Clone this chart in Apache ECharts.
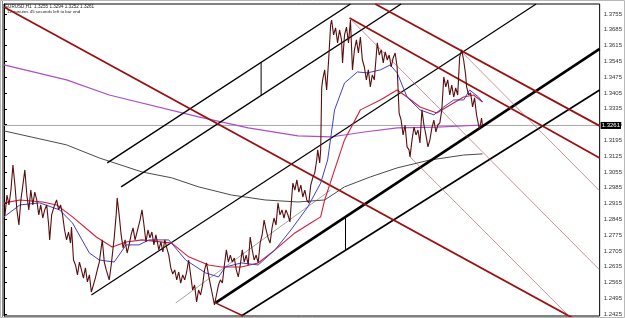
<!DOCTYPE html>
<html><head><meta charset="utf-8">
<script src="https://cdn.jsdelivr.net/npm/echarts@6/dist/echarts.min.js"></script>
<style>html,body{margin:0;padding:0;background:#fff}#c{width:625px;height:318px}</style>
</head><body><div id="c"></div><script>
// ---- price (close) path, bar index -> price ----
const priceBars = [1,3,5,7,9,11,13,15,17,19,21,23,25,27,29,31,33,35,37,39,41,43,45,46,48,51,53,55,57,59,61,63,65,67,68,70,72,74,76,78,80,82,84,86,88,90,92,94,96,99,101,103,106,108,111,113,114,116,118,120,122,124,126,128,130,132,134,137,139,141,143,145,147,149,151,153,156,158,160,162,164,166,168,170,172,174,176,178,180,182,184,186,188,190,192,194,196,198,200,202,204,206,208,210,212,214,216,218,220,222,224,226,228,230,232,234,236,238,240,242,244,246,248,250,252,254,256,258,260,262,264,266,268,270,272,274,276,278,280,282,284,286,288,290,291,293,295,297,299,301,303,305,307,309,311,313,315,316,318,319,320,321,323,325,327,329,330,332,334,336,338,340,341,343,345,347,349,351,353,355,357,359,361,363,365,367,369,371,373,376,378,380,382,384,386,388,390,392,394,396,398,400,402,404,406,408,409,411,413,415,417,419,421,423,425,427,429,431,433,435,437,439,441,443,445,447,449,451,453,455,457,459,461,463,465,466,468,470,472,474,476,478,479,481,482];
const priceClose = [1.2865,1.2953,1.2909,1.2975,1.3086,1.2997,1.2887,1.2820,1.2931,1.2997,1.3064,1.2953,1.2887,1.2975,1.2909,1.2966,1.2931,1.2865,1.2909,1.2851,1.2887,1.2909,1.2820,1.2754,1.2865,1.2909,1.2931,1.2887,1.2909,1.2865,1.2798,1.2754,1.2789,1.2740,1.2811,1.2665,1.2643,1.2599,1.2656,1.2621,1.2585,1.2630,1.2568,1.2599,1.2523,1.2554,1.2585,1.2621,1.2656,1.2754,1.2656,1.2621,1.2577,1.2643,1.2763,1.2865,1.2940,1.2865,1.2776,1.2718,1.2754,1.2696,1.2732,1.2776,1.2807,1.2754,1.2789,1.2842,1.2887,1.2820,1.2745,1.2798,1.2763,1.2789,1.2732,1.2776,1.2710,1.2745,1.2701,1.2754,1.2718,1.2687,1.2630,1.2603,1.2621,1.2577,1.2612,1.2563,1.2599,1.2577,1.2612,1.2665,1.2599,1.2532,1.2554,1.2479,1.2532,1.2510,1.2554,1.2621,1.2652,1.2599,1.2554,1.2510,1.2466,1.2510,1.2554,1.2577,1.2563,1.2643,1.2710,1.2656,1.2687,1.2656,1.2674,1.2621,1.2590,1.2643,1.2710,1.2656,1.2687,1.2643,1.2767,1.2710,1.2665,1.2687,1.2652,1.2740,1.2776,1.2842,1.2798,1.2763,1.2740,1.2807,1.2851,1.2820,1.2918,1.2865,1.2887,1.2851,1.2887,1.2865,1.2834,1.2953,1.3006,1.2975,1.3020,1.2966,1.2997,1.2944,1.2975,1.2931,1.2918,1.2997,1.3029,1.3051,1.3108,1.3153,1.3095,1.3153,1.3427,1.3463,1.3507,1.3418,1.3551,1.3706,1.3728,1.3662,1.3693,1.3627,1.3684,1.3640,1.3538,1.3662,1.3697,1.3627,1.3728,1.3507,1.3596,1.3640,1.3582,1.3653,1.3551,1.3520,1.3463,1.3507,1.3432,1.3485,1.3463,1.3627,1.3573,1.3596,1.3538,1.3587,1.3551,1.3573,1.3520,1.3560,1.3582,1.3520,1.3316,1.3285,1.3219,1.3263,1.3166,1.3153,1.3122,1.3197,1.3254,1.3219,1.3241,1.3184,1.3330,1.3263,1.3219,1.3166,1.3197,1.3250,1.3285,1.3232,1.3263,1.3272,1.3330,1.3476,1.3432,1.3463,1.3396,1.3440,1.3387,1.3427,1.3396,1.3565,1.3596,1.3551,1.3485,1.3432,1.3396,1.3405,1.3343,1.3383,1.3308,1.3263,1.3241,1.3294,1.3261];

// ---- moving averages ----
const maFastBars = [0,16,36,56,69,86,96,111,123,136,146,166,183,203,216,223,239,256,273,289,306,319,326,333,343,356,366,379,389,396,406,419,433,443,453,463,469,478,482];
const maFast = [1.2856,1.2909,1.2918,1.2887,1.2829,1.2696,1.2665,1.2656,1.2732,1.2732,1.2754,1.2754,1.2665,1.2608,1.2590,1.2634,1.2652,1.2643,1.2710,1.2798,1.2900,1.3006,1.3108,1.3330,1.3449,1.3498,1.3494,1.3507,1.3529,1.3494,1.3387,1.3330,1.3308,1.3343,1.3374,1.3374,1.3418,1.3387,1.3365];
const maMidBars = [0,16,39,53,69,93,109,123,139,169,186,206,219,239,256,273,293,309,319,323,333,343,359,379,396,406,419,436,446,463,473,482];
const maMid = [1.2918,1.2931,1.2922,1.2909,1.2856,1.2767,1.2723,1.2745,1.2754,1.2740,1.2679,1.2643,1.2634,1.2634,1.2652,1.2710,1.2785,1.2829,1.2856,1.2931,1.3064,1.3197,1.3330,1.3374,1.3418,1.3387,1.3343,1.3316,1.3343,1.3387,1.3396,1.3365];
const maSlowBars = [0,63,106,196,246,296,329,363,396,436,482];
const maSlow = [1.3529,1.3463,1.3396,1.3299,1.3250,1.3215,1.3210,1.3232,1.3250,1.3254,1.3263];
const maLongBars = [0,63,96,139,169,196,229,263,296,323,343,369,396,429,463,482];
const maLong = [1.3237,1.3175,1.3117,1.3055,1.3029,1.2989,1.2953,1.2931,1.2922,1.2931,1.2989,1.3033,1.3073,1.3108,1.3130,1.3135];

// ---- drawn trend lines: [bar, price] end points ----
const upperChannelA = [[104,1.3095],[349,1.3799]];
const upperChannelB = [[118,1.2989],[400,1.3799]];
const upperMarker = [[259,1.3542],[259,1.3396]];
const medianLine = [[88,1.2510],[536,1.3799]];
const lowerChannelA = [[213,1.2475],[600,1.3600]];
const lowerChannelB = [[239,1.2417],[600,1.3418]];
const lowerMarker = [[344,1.2851],[344,1.2710]];
const handleLine = [[213,1.2475],[241,1.2417]];
const thinGuide = [[173,1.2475],[329,1.2975]];
const redDownA = [[0,1.3786],[600,1.2343]];
const redDownB = [[374,1.3799],[600,1.3259]];
const redDownC = [[348,1.3737],[600,1.3117]];
const forkMedian = [[348,1.3737],[600,1.2621]];
const forkUpper = [[461,1.3587],[600,1.2971]];
const forkLower = [[409,1.3122],[569,1.2417]];

const tickValues = [1.2425,1.2495,1.2565,1.2635,1.2705,1.2775,1.2845,1.2915,1.2985,1.3055,1.3125,1.3195,1.3265,1.3335,1.3405,1.3475,1.3545,1.3615,1.3685,1.3755];
const bidPrice = 1.3261;
const bidLine = [[0,bidPrice],[600,bidPrice]];
const headerLine1 = 'EURUSD,H1  1.3255 1.3294 1.3252 1.3261';
const headerLine2 = '12 minutes 45 seconds left to bar end';

function zip(xs, ys){ return xs.map((x,i)=>[x, ys[i]]); }
function seg(name, pts, color, width){
  return {type:'line', name, data:pts, symbol:'none', silent:true, animation:false,
    lineStyle:{color, width}, z:3};
}

const chart = echarts.init(document.getElementById('c'));
chart.setOption({
  animation:false,
  backgroundColor:'#fff',
  grid:{left:4, right:21, top:4, bottom:2, show:true, borderColor:'#000', borderWidth:1},
  xAxis:{type:'value', min:0, max:600, show:false},
  yAxis:{type:'value', position:'right', min:1.2417, max:1.3799, scale:true,
    axisLine:{show:true, lineStyle:{color:'#000', width:1}},
    axisTick:{show:true, length:3, customValues:tickValues, lineStyle:{color:'#000'}},
    axisLabel:{customValues:tickValues, fontSize:6, color:'#333', margin:4,
      fontFamily:'Liberation Sans', formatter:v=>v.toFixed(4)},
    splitLine:{show:false}},
  graphic:[
    {type:'rect', shape:{x:0.5,y:0.5,width:624,height:317}, style:{fill:'none', stroke:'#b8b8b8', lineWidth:1}},
    {type:'line', shape:{x1:2.5,y1:1,x2:2.5,y2:317}, style:{stroke:'#888', lineWidth:1}},
    {type:'text', left:5, top:4, style:{text:headerLine1, fontSize:4.6, fill:'#222', fontFamily:'Liberation Sans'}},
    {type:'text', left:7, top:10, style:{text:headerLine2, fontSize:4.4, fill:'#222', fontFamily:'Liberation Sans'}}
  ],
  series:[
    {type:'line', name:'bid', data:bidLine, symbol:'none', silent:true, z:2,
      lineStyle:{color:'#a8a8a8', width:1},
      endLabel:{show:true, distance:1, formatter:()=>bidPrice.toFixed(4), backgroundColor:'#000', color:'#fff',
        fontSize:6, padding:[1,1,0,1], fontFamily:'Liberation Sans'}},
    seg('maLong', zip(maLongBars, maLong), '#4a4a4a', 1),
    seg('maSlow', zip(maSlowBars, maSlow), '#b04cc8', 1.2),
    seg('upperChannelA', upperChannelA, '#000', 1.4),
    seg('upperChannelB', upperChannelB, '#000', 1.4),
    seg('upperMarker', upperMarker, '#000', 1),
    seg('medianLine', medianLine, '#000', 1.2),
    seg('lowerChannelA', lowerChannelA, '#000', 2.6),
    seg('lowerChannelB', lowerChannelB, '#000', 1.6),
    seg('lowerMarker', lowerMarker, '#000', 1),
    seg('handleLine', handleLine, '#9b1010', 1.4),
    seg('thinGuide', thinGuide, '#666', 0.6),
    seg('redDownA', redDownA, '#9b1010', 1.8),
    seg('redDownB', redDownB, '#9b1010', 1.8),
    seg('redDownC', redDownC, '#9b1010', 1.8),
    seg('forkMedian', forkMedian, '#a05050', 0.6),
    seg('forkUpper', forkUpper, '#a05050', 0.6),
    seg('forkLower', forkLower, '#a05050', 0.6),
    {type:'line', name:'price', data:zip(priceBars, priceClose), symbol:'none', silent:true, z:4,
      lineStyle:{color:'#5a0e0e', width:1.1}},
    seg('maMid', zip(maMidBars, maMid), '#d0203a', 1.1),
    seg('maFast', zip(maFastBars, maFast), '#4040c8', 1)
  ]
});
</script></body></html>
